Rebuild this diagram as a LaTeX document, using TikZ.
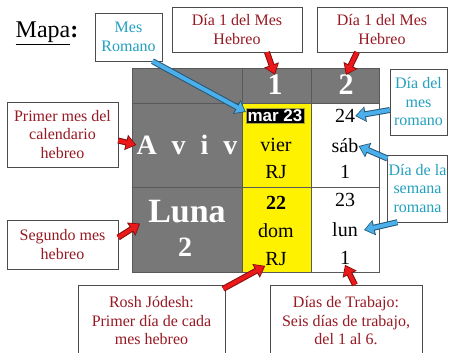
\documentclass[tikz,border=0pt]{standalone}
\usepackage{fontspec}
\setmainfont{LiberationSerif}[Extension=.ttf, UprightFont=*-Regular, BoldFont=*-Bold, ItalicFont=*-Italic, BoldItalicFont=*-BoldItalic]
\setsansfont{Liberation Sans}
\usetikzlibrary{arrows.meta}
\definecolor{hebred}{RGB}{150,25,35}
\definecolor{romteal}{RGB}{35,160,190}
\definecolor{arrred}{RGB}{235,25,25}
\definecolor{arrblue}{RGB}{75,175,235}
\definecolor{cellgray}{RGB}{120,120,120}

\begin{document}
\begin{tikzpicture}[x=1pt, y=-1pt,
    box/.style = {draw=black!70, fill=white, align=center, inner sep=1pt, font=\rmfamily\fontsize{16}{18.5}\selectfont},
    heb/.style = {box, text=hebred},
    rom/.style = {box, text=romteal},
    cell/.style = {inner sep=0pt, font=\rmfamily\fontsize{20}{24}\selectfont},
    big/.style = {inner sep=0pt, text=white, font=\rmfamily\fontsize{30}{32}\selectfont\bfseries},
    gridline/.style = {draw=black!65, line width=0.6pt},
    redarr/.style = {line width=4pt, draw=arrred, -{Triangle[length=8pt,width=12pt]}, shorten >=1.5pt,
        preaction={draw=arrred!55!black, line width=6pt, shorten >=0pt, -{Triangle[length=10.5pt,width=15pt]}}},
    bluearr/.style = {line width=4pt, draw=arrblue, -{Triangle[length=8pt,width=12pt]}, shorten >=1.5pt,
        preaction={draw=arrblue!50!black, line width=6pt, shorten >=0pt, -{Triangle[length=10.5pt,width=15pt]}}}]
    \useasboundingbox (0,0) rectangle (450,353);
    % the calendar table
    \fill[cellgray] (132,68) rectangle (379,103);
    \fill[cellgray] (132,103) rectangle (242,272);
    \fill[yellow] (242,103) rectangle (311,272);
    \draw[gridline] (132,68) rectangle (379,272);
    \draw[gridline] (132,103) -- (379,103);
    \draw[gridline] (132,187) -- (379,187);
    \draw[gridline] (242,68) -- (242,272);
    \draw[gridline] (311,68) -- (311,272);
    \node[big] (h1) at (275,85) {1};
    \node[big] (h2) at (346,85) {2};
    \node[big, font=\rmfamily\fontsize{28}{30}\selectfont\bfseries] (aviv) at (187,145) {A\hspace{15pt}v\hspace{15pt}i\hspace{15pt}v};
    \node[big, font=\rmfamily\fontsize{34}{36}\selectfont\bfseries] (luna) at (187,212) {Luna};
    \node[big, font=\rmfamily\fontsize{28}{30}\selectfont\bfseries] (luna2) at (185,247) {2};
    \node[fill=black, draw=yellow!60!black, text=white, inner sep=1.5pt, font=\sffamily\fontsize{17}{19}\selectfont\bfseries] (mar) at (275,116) {mar 23};
    \node[cell] (vier) at (276,145) {vier};
    \node[cell] (rj1) at (276,172) {RJ};
    \node[cell, font=\rmfamily\fontsize{20}{24}\selectfont\bfseries] (d22) at (276,203) {22};
    \node[cell] (dom) at (276,231) {dom};
    \node[cell] (rj2) at (276,259) {RJ};
    \node[cell] (d24) at (345,116) {24};
    \node[cell] (sab) at (345,146) {sáb};
    \node[cell] (uno1) at (345,172) {1};
    \node[cell] (d23) at (345,200) {23};
    \node[cell] (lun) at (345,230) {lun};
    \node[cell] (uno2) at (345,258) {1};
    % labels round the table
    \node[font=\rmfamily\fontsize{24}{26}\selectfont] (mapa) at (47,33) {\underline{Mapa}\textbf{:}};
    \node[rom, minimum width=67pt, minimum height=48pt] (mesrom) at (128.5,37) {Mes\\Romano};
    \node[heb, minimum width=130pt, minimum height=45pt] (dia1a) at (237,29.5) {Día 1 del Mes\\Hebreo};
    \node[heb, minimum width=130pt, minimum height=45pt] (dia1b) at (382,29.5) {Día 1 del Mes\\Hebreo};
    \node[rom, minimum width=57pt, minimum height=66pt] (diames) at (418.5,102) {Día del\\mes\\romano};
    \node[rom, minimum width=59pt, minimum height=67pt] (diasem) at (417.5,188.5) {Día de la\\semana\\romana};
    \node[heb, minimum width=111pt, minimum height=65pt] (primer) at (62.5,134.5) {Primer mes del\\calendario\\hebreo};
    \node[heb, minimum width=111pt, minimum height=49pt] (segundo) at (62.5,244.5) {Segundo mes\\hebreo};
    \node[heb, minimum width=147pt, minimum height=72pt] (rosh) at (151.5,321) {Rosh Jódesh:\\Primer día de cada\\mes hebreo};
    \node[heb, minimum width=152pt, minimum height=72pt] (trabajo) at (346,321) {Días de Trabajo:\\Seis días de trabajo,\\del 1 al 6.};
    \draw[redarr] ([xshift=30pt]dia1a.south) -- (h1.north);
    \draw[redarr] ([xshift=-25pt]dia1b.south) -- (h2.north);
    \draw[redarr] ([yshift=-6pt]primer.east) -- (aviv.west);
    \draw[redarr] ([yshift=7pt]segundo.east) -- ([xshift=-8pt]luna.south west);
    \draw[redarr] ([xshift=-2pt,yshift=-4pt]rosh.north east) -- (rj2.south west);
    \draw[redarr] ([xshift=9pt]trabajo.north) -- (uno2.south);
    \draw[bluearr] ([xshift=24pt]mesrom.south) -- ([yshift=4pt]mar.west);
    \draw[bluearr] ([yshift=-8pt]diames.west) -- (d24.east);
    \draw[bluearr] ([yshift=30pt]diasem.west) -- (sab.east);
    \draw[bluearr] ([xshift=10pt]diasem.south west) -- ([xshift=6pt]lun.east);
\end{tikzpicture}
\end{document}
